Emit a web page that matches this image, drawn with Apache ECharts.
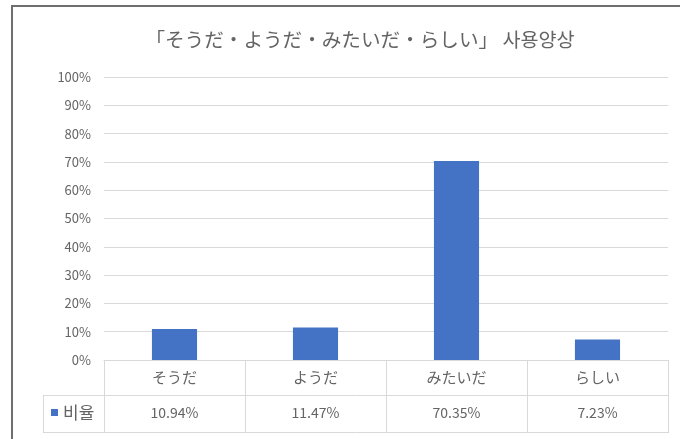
<!DOCTYPE html>
<html>
<head>
<meta charset="utf-8">
<script src="https://cdn.jsdelivr.net/npm/echarts@6/dist/echarts.min.js"></script>
<style>
  html, body { margin: 0; padding: 0; background: #fff; }
  #chart { width: 680px; height: 439px; }
</style>
</head>
<body>
<div id="chart"></div>
<script>
// Usage share of the four Japanese inference expressions
const titleText = '「そうだ・ようだ・みたいだ・らしい」 사용양상';
const categories = ['そうだ', 'ようだ', 'みたいだ', 'らしい'];
const seriesName = '비율';
const shares = [10.94, 11.47, 70.35, 7.23]; // percent
const yTicks = { min: 0, max: 100, step: 10 };

const FONT = '"Noto Sans CJK KR", "Noto Sans CJK JP", sans-serif';
const TEXT = '#646464';
const RULE = '#d9d9d9';
const BAR = '#4472C4';

const chart = echarts.init(document.getElementById('chart'));

// Data-table rows under the plot
const tableLeft = 43, tableRight = 668, rowTop = 395.5, rowBottom = 432.5;

chart.setOption({
  animation: false,
  backgroundColor: '#fff',
  textStyle: { fontFamily: FONT },
  title: {
    text: titleText,
    left: 355,
    textAlign: 'center',
    top: 25,
    textStyle: { fontFamily: FONT, fontSize: 19.6, fontWeight: 'normal', color: TEXT }
  },
  legend: {
    data: [seriesName],
    left: 51,
    top: 404,
    padding: 0,
    icon: 'rect',
    itemWidth: 7,
    itemHeight: 7,
    itemGap: 0,
    textStyle: { fontFamily: FONT, fontSize: 17, color: TEXT, padding: [0, 0, 0, 0] }
  },
  grid: { left: 104, right: 12, top: 77, bottom: 79, containLabel: false },
  xAxis: [
    {
      type: 'category',
      data: categories,
      boundaryGap: true,
      axisLine: { show: true, lineStyle: { color: RULE, width: 1 } },
      axisTick: { show: true, interval: 0, length: 73, lineStyle: { color: RULE } },
      axisLabel: { margin: 10, fontSize: 15, color: TEXT, fontFamily: FONT, interval: 0 }
    },
    {
      type: 'category',
      position: 'bottom',
      offset: 36,
      data: shares.map(v => v.toFixed(2) + '%'),
      boundaryGap: true,
      axisLine: { show: false },
      axisTick: { show: false },
      axisLabel: { margin: 10, fontSize: 14, color: TEXT, fontFamily: FONT, interval: 0 }
    }
  ],
  yAxis: {
    type: 'value',
    min: yTicks.min,
    max: yTicks.max,
    interval: yTicks.step,
    axisLine: { show: false },
    axisTick: { show: false },
    splitLine: { lineStyle: { color: RULE, width: 1 } },
    axisLabel: { formatter: '{value}%', fontSize: 13, color: TEXT, margin: 13, fontFamily: FONT }
  },
  series: [{
    name: seriesName,
    type: 'bar',
    xAxisIndex: 0,
    data: shares,
    barWidth: '32%',
    itemStyle: { color: BAR }
  }],
  graphic: [
    // outer chart frame
    { type: 'rect', shape: { x: 12, y: 6, width: 720, height: 480 }, style: { fill: 'none', stroke: '#6e6e6e', lineWidth: 2 }, silent: true },
    // data table rules
    { type: 'line', shape: { x1: tableLeft, y1: rowTop, x2: tableRight, y2: rowTop }, style: { stroke: RULE, lineWidth: 1 } },
    { type: 'line', shape: { x1: tableLeft, y1: rowBottom, x2: tableRight, y2: rowBottom }, style: { stroke: RULE, lineWidth: 1 } },
    { type: 'line', shape: { x1: tableLeft + 0.5, y1: rowTop, x2: tableLeft + 0.5, y2: rowBottom }, style: { stroke: RULE, lineWidth: 1 } }
  ]
});
</script>
</body>
</html>
